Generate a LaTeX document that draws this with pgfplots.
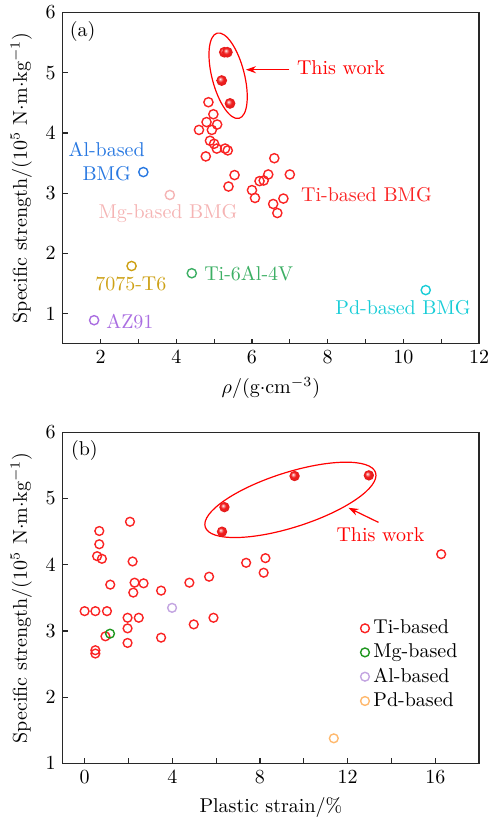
\documentclass[border=0pt]{standalone}
\usepackage{pgfplots}
\pgfplotsset{compat=1.18}
\usetikzlibrary{arrows.meta,shapes.geometric}
\definecolor{tired}{RGB}{250,35,35}
\definecolor{alblue}{RGB}{40,120,225}
\definecolor{mgpink}{RGB}{245,180,180}
\definecolor{gold}{RGB}{205,160,20}
\definecolor{tigreen}{RGB}{60,175,100}
\definecolor{azpurple}{RGB}{170,110,225}
\definecolor{pdcyan}{RGB}{25,205,215}
\definecolor{mggreen}{RGB}{30,150,30}
\definecolor{allav}{RGB}{195,165,225}
\definecolor{pdorange}{RGB}{255,185,110}
\definecolor{axgray}{RGB}{40,40,40}
\definecolor{ballred}{RGB}{240,30,30}

\pgfdeclareradialshading{rball}{\pgfpoint{-8bp}{8bp}}{color(0bp)=(white); color(5bp)=(ballred!45!white); color(13bp)=(ballred); color(30bp)=(ballred!92!black); color(50bp)=(ballred!80!black)}
\pgfdeclareplotmark{rball}{\pgfpathcircle{\pgfpointorigin}{\pgfplotmarksize}\pgfshadepath{rball}{0}\pgfusepath{}}

\pgfplotstableread{
x y
4.85 4.51
4.98 4.31
4.80 4.18
5.08 4.14
4.60 4.05
4.94 4.05
4.89 3.87
5.00 3.82
5.07 3.74
5.29 3.74
5.36 3.71
4.78 3.61
6.59 3.58
5.54 3.30
5.38 3.11
6.43 3.31
6.31 3.21
6.20 3.20
7.00 3.31
6.00 3.05
6.08 2.92
6.83 2.91
6.56 2.82
6.67 2.67
}\tiA

\pgfplotstableread{
x y
5.27 5.34
5.35 5.34
5.20 4.87
5.42 4.49
}\workA

\pgfplotstableread{
x y
2.07 4.65
0.67 4.51
0.67 4.31
0.57 4.13
0.79 4.09
2.19 4.05
7.37 4.03
8.25 4.10
8.17 3.88
5.68 3.82
4.78 3.73
1.17 3.70
2.28 3.73
2.69 3.72
2.22 3.58
3.49 3.61
0.00 3.30
0.49 3.30
1.02 3.30
1.96 3.20
2.47 3.20
5.88 3.20
4.98 3.10
1.96 3.04
0.95 2.92
1.96 2.82
3.49 2.90
0.49 2.71
0.49 2.66
16.27 4.16
}\tiB

\pgfplotstableread{
x y
6.27 4.50
6.38 4.87
9.58 5.34
12.97 5.35
}\workB

\begin{document}
\begin{tikzpicture}
\pgfplotsset{
  myaxis/.style={
    scale only axis, width=208.2pt, height=165.6pt,
    anchor=south west,
    axis line style={axgray, line width=0.7pt},
    tick style={axgray, line width=0.6pt},
    major tick length=2.5pt, minor tick length=2.5pt,
    xtick pos=bottom, ytick pos=left,
    tick align=inside,
    ytick={1,2,3,4,5,6},
    ylabel={Specific strength/($10^5$ N$\cdot$m$\cdot$kg$^{-1}$)},
    clip=false,
  },
}
\begin{axis}[myaxis, at={(31.35pt,237.15pt)},
  xmin=1, xmax=12, ymin=0.5, ymax=6,
  xtick={2,4,...,12}, minor xtick={3,5,...,11},
  xlabel={$\rho$/(g$\cdot$cm$^{-3}$)},
]
\addplot[only marks, mark=o, mark size=2.3pt, tired, line width=0.7pt] table {\tiA};
\addplot[only marks, mark=o, mark size=2.3pt, alblue, line width=0.7pt] coordinates {(3.13,3.35)};
\addplot[only marks, mark=o, mark size=2.3pt, mgpink, line width=0.7pt] coordinates {(3.83,2.97)};
\addplot[only marks, mark=o, mark size=2.3pt, gold, line width=0.7pt] coordinates {(2.82,1.79)};
\addplot[only marks, mark=o, mark size=2.3pt, tigreen, line width=0.7pt] coordinates {(4.41,1.67)};
\addplot[only marks, mark=o, mark size=2.3pt, azpurple, line width=0.7pt] coordinates {(1.83,0.89)};
\addplot[only marks, mark=o, mark size=2.3pt, pdcyan, line width=0.7pt] coordinates {(10.59,1.39)};
\addplot[only marks, mark=rball, mark size=2.7pt] table {\workA};
\node[draw=red, line width=0.6pt, ellipse, inner sep=0pt, minimum width=44pt, minimum height=16.2pt, rotate=104.4] at (axis cs:5.37,4.95) {};
\draw[red, line width=0.6pt, -{Stealth[length=5pt, width=3.5pt]}] (axis cs:6.99,5.05) -- (axis cs:5.84,5.05);
\node[red, anchor=west, inner sep=0pt] at (axis cs:7.18,5.08) {This work};
\node[tired, anchor=west, inner sep=0pt] at (axis cs:7.29,2.98) {Ti-based BMG};
\node[alblue, align=center, inner sep=0pt] at (axis cs:2.16,3.52) {Al-based\\BMG};
\node[mgpink, inner sep=0pt] at (axis cs:3.78,2.66) {Mg-based BMG};
\node[gold, inner sep=0pt] at (axis cs:2.80,1.49) {7075-T6};
\node[tigreen, anchor=west, inner sep=0pt] at (axis cs:4.73,1.67) {Ti-6Al-4V};
\node[azpurple, anchor=west, inner sep=0pt] at (axis cs:2.14,0.87) {AZ91};
\node[pdcyan, inner sep=0pt] at (axis cs:9.99,1.09) {Pd-based BMG};
\node[inner sep=0pt] at (axis description cs:0.048,0.942) {(a)};
\end{axis}

\begin{axis}[myaxis, at={(31.35pt,27.25pt)},
  xmin=-1, xmax=18, ymin=1, ymax=6,
  xtick={0,4,...,16}, minor xtick={2,6,...,14},
  xlabel={Plastic strain/\%},
  legend cell align=left,
  legend image code/.code={\draw[#1, mark repeat=2, mark phase=2] plot coordinates {(0pt,0pt) (3pt,0pt) (6pt,0pt)};},
  legend style={draw=none, fill=none, at={(axis description cs:0.70,0.459)}, anchor=north west, row sep=-0.4pt},
]
\addplot[only marks, mark=o, mark size=2.2pt, tired, line width=0.7pt] table {\tiB};
\addlegendentry{Ti-based}
\addplot[only marks, mark=o, mark size=2.2pt, mggreen, line width=0.7pt] coordinates {(1.16,2.96)};
\addlegendentry{Mg-based}
\addplot[only marks, mark=o, mark size=2.2pt, allav, line width=0.7pt] coordinates {(3.99,3.35)};
\addlegendentry{Al-based}
\addplot[only marks, mark=o, mark size=2.2pt, pdorange, line width=0.7pt] coordinates {(11.37,1.38)};
\addlegendentry{Pd-based}
\addplot[only marks, mark=rball, mark size=2.6pt, forget plot] table {\workB};
\node[draw=red, line width=0.6pt, ellipse, inner sep=0pt, minimum width=89.4pt, minimum height=27.4pt, rotate=17.7] at (axis cs:9.39,4.98) {};
\draw[red, line width=0.6pt, -{Stealth[length=5pt, width=3.5pt]}] (axis cs:13.41,4.64) -- (axis cs:12.04,4.86);
\node[red, inner sep=0pt] at (axis cs:13.50,4.46) {This work};
\node[inner sep=0pt] at (axis description cs:0.052,0.946) {(b)};
\end{axis}
\pgfresetboundingbox
\path[use as bounding box] (0,0) rectangle (245.5pt,409pt);
\end{tikzpicture}
\end{document}
